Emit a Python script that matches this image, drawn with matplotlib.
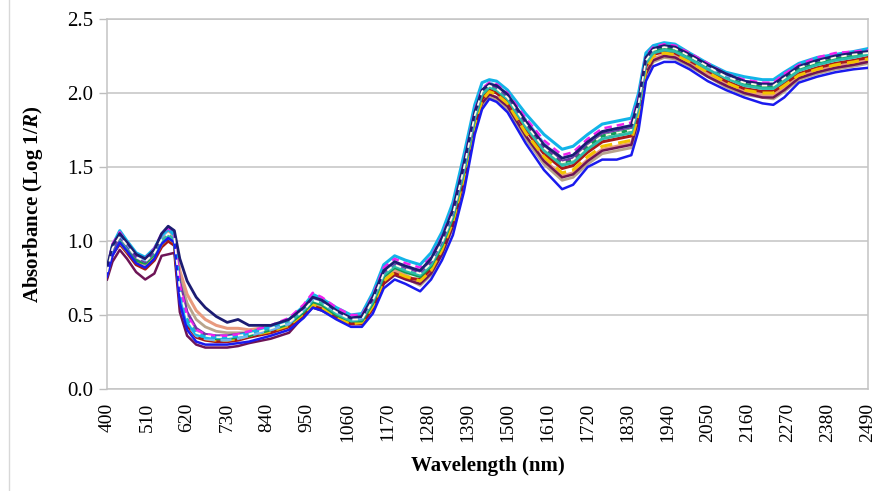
import matplotlib

matplotlib.use("Agg")
import matplotlib.pyplot as plt
from matplotlib.lines import Line2D

plt.rcParams["font.family"] = ["Liberation Serif", "DejaVu Serif"]
plt.rcParams["mathtext.fontset"] = "custom"
plt.rcParams["mathtext.rm"] = "Liberation Serif:bold"
plt.rcParams["mathtext.it"] = "Liberation Serif:italic:bold"

# Wavelength grid (nm) shared by every spectrum
wavelength = [
    400, 415, 435, 455, 480, 505, 530, 550, 568, 585,
    600, 620, 645, 670, 700, 730, 760, 790, 850, 900,
    940, 965, 990, 1030, 1070, 1100, 1130, 1160, 1190, 1220,
    1260, 1290, 1320, 1350, 1380, 1410, 1430, 1450, 1470, 1500,
    1550, 1600, 1650, 1680, 1720, 1760, 1800, 1840, 1860, 1880,
    1900, 1930, 1960, 2000, 2050, 2100, 2150, 2200, 2230, 2260,
    2300, 2350, 2400, 2450, 2490,
]

# Absorbance (log 1/R) per sample
navy = [
    0.82, 0.97, 1.05, 0.99, 0.91, 0.88, 0.94, 1.05, 1.10, 1.07,
    0.88, 0.73, 0.62, 0.55, 0.49, 0.45, 0.47, 0.43, 0.43, 0.47,
    0.55, 0.62, 0.60, 0.53, 0.48, 0.49, 0.62, 0.80, 0.86, 0.83,
    0.80, 0.88, 1.02, 1.21, 1.52, 1.87, 2.02, 2.06, 2.05, 1.99,
    1.81, 1.65, 1.56, 1.58, 1.67, 1.74, 1.76, 1.78, 1.95, 2.24,
    2.30, 2.32, 2.31, 2.26, 2.19, 2.13, 2.08, 2.06, 2.06, 2.11,
    2.18, 2.22, 2.25, 2.27, 2.28,
]
blue = [
    0.76, 0.90, 0.99, 0.93, 0.85, 0.82, 0.88, 0.98, 1.02, 0.99,
    0.58, 0.40, 0.32, 0.30, 0.30, 0.30, 0.31, 0.32, 0.36, 0.40,
    0.48, 0.55, 0.53, 0.47, 0.42, 0.42, 0.51, 0.68, 0.74, 0.71,
    0.66, 0.74, 0.87, 1.04, 1.33, 1.72, 1.89, 1.96, 1.94, 1.87,
    1.66, 1.48, 1.35, 1.38, 1.50, 1.55, 1.55, 1.58, 1.75, 2.08,
    2.18, 2.21, 2.21, 2.16, 2.08, 2.02, 1.97, 1.93, 1.92, 1.97,
    2.07, 2.11, 2.14, 2.16, 2.17,
]
plum = [
    0.74, 0.86, 0.94, 0.88, 0.79, 0.74, 0.78, 0.90, 0.91, 0.92,
    0.52, 0.36, 0.30, 0.28, 0.28, 0.28, 0.29, 0.31, 0.34, 0.38,
    0.49, 0.55, 0.53, 0.48, 0.44, 0.44, 0.54, 0.71, 0.77, 0.74,
    0.71, 0.78, 0.91, 1.10, 1.40, 1.77, 1.93, 1.99, 1.97, 1.91,
    1.71, 1.54, 1.43, 1.45, 1.54, 1.61, 1.63, 1.65, 1.82, 2.13,
    2.22, 2.25, 2.24, 2.19, 2.11, 2.05, 2.00, 1.97, 1.97, 2.02,
    2.10, 2.14, 2.17, 2.19, 2.21,
]
cyan = [
    0.80, 0.97, 1.07, 1.00, 0.92, 0.89, 0.95, 1.04, 1.08, 1.04,
    0.64, 0.45, 0.37, 0.35, 0.35, 0.35, 0.36, 0.38, 0.42, 0.47,
    0.56, 0.64, 0.61, 0.55, 0.50, 0.51, 0.65, 0.84, 0.90, 0.87,
    0.84, 0.92, 1.06, 1.26, 1.58, 1.92, 2.07, 2.09, 2.08, 2.02,
    1.86, 1.72, 1.62, 1.64, 1.72, 1.79, 1.81, 1.83, 2.00, 2.27,
    2.32, 2.34, 2.33, 2.27, 2.20, 2.14, 2.11, 2.09, 2.09, 2.14,
    2.20, 2.24, 2.26, 2.28, 2.30,
]
magenta = [
    0.81, 0.98, 1.06, 0.99, 0.91, 0.88, 0.95, 1.05, 1.09, 1.05,
    0.70, 0.50, 0.40, 0.37, 0.36, 0.36, 0.37, 0.39, 0.43, 0.48,
    0.57, 0.65, 0.62, 0.55, 0.50, 0.50, 0.63, 0.82, 0.88, 0.85,
    0.82, 0.89, 1.03, 1.22, 1.53, 1.88, 2.03, 2.07, 2.06, 2.00,
    1.83, 1.68, 1.58, 1.60, 1.69, 1.76, 1.78, 1.80, 1.97, 2.25,
    2.31, 2.33, 2.32, 2.27, 2.20, 2.13, 2.09, 2.07, 2.07, 2.13,
    2.19, 2.24, 2.27, 2.28, 2.29,
]
green = [
    0.78, 0.93, 1.01, 0.95, 0.87, 0.85, 0.91, 0.99, 1.03, 1.00,
    0.64, 0.46, 0.37, 0.35, 0.34, 0.34, 0.35, 0.36, 0.40, 0.44,
    0.52, 0.59, 0.57, 0.50, 0.46, 0.46, 0.58, 0.76, 0.82, 0.79,
    0.76, 0.83, 0.97, 1.16, 1.47, 1.83, 1.99, 2.04, 2.02, 1.96,
    1.78, 1.63, 1.53, 1.55, 1.64, 1.71, 1.73, 1.75, 1.92, 2.22,
    2.28, 2.30, 2.29, 2.24, 2.17, 2.11, 2.06, 2.04, 2.04, 2.09,
    2.16, 2.20, 2.23, 2.25, 2.27,
]
yellow = [
    0.77, 0.92, 0.99, 0.93, 0.86, 0.83, 0.89, 0.98, 1.02, 0.99,
    0.63, 0.47, 0.37, 0.34, 0.33, 0.33, 0.34, 0.36, 0.39, 0.43,
    0.51, 0.57, 0.55, 0.49, 0.44, 0.45, 0.56, 0.73, 0.79, 0.76,
    0.73, 0.80, 0.94, 1.13, 1.43, 1.79, 1.95, 2.01, 1.99, 1.93,
    1.73, 1.57, 1.46, 1.48, 1.57, 1.64, 1.66, 1.68, 1.86, 2.16,
    2.25, 2.27, 2.26, 2.21, 2.14, 2.07, 2.02, 2.00, 2.00, 2.05,
    2.12, 2.16, 2.19, 2.21, 2.23,
]
darkred = [
    0.76, 0.91, 0.98, 0.92, 0.84, 0.81, 0.87, 0.96, 1.00, 0.97,
    0.60, 0.43, 0.35, 0.33, 0.32, 0.32, 0.33, 0.35, 0.38, 0.42,
    0.50, 0.56, 0.54, 0.48, 0.44, 0.44, 0.55, 0.72, 0.78, 0.75,
    0.74, 0.81, 0.95, 1.14, 1.44, 1.80, 1.96, 2.02, 2.00, 1.94,
    1.75, 1.59, 1.49, 1.51, 1.60, 1.67, 1.69, 1.71, 1.88, 2.18,
    2.26, 2.28, 2.27, 2.22, 2.15, 2.08, 2.03, 2.01, 2.01, 2.06,
    2.13, 2.17, 2.20, 2.22, 2.24,
]
salmon = [
    0.79, 0.95, 1.03, 0.97, 0.90, 0.87, 0.93, 1.02, 1.06, 1.03,
    0.80, 0.64, 0.53, 0.47, 0.43, 0.41, 0.41, 0.40, 0.42, 0.46,
    0.52, 0.58, 0.56, 0.50, 0.45, 0.46, 0.57, 0.74, 0.80, 0.77,
    0.72, 0.79, 0.93, 1.11, 1.41, 1.77, 1.93, 1.99, 1.97, 1.91,
    1.71, 1.55, 1.44, 1.46, 1.55, 1.62, 1.64, 1.66, 1.84, 2.14,
    2.23, 2.26, 2.25, 2.20, 2.13, 2.06, 2.01, 1.99, 1.99, 2.04,
    2.11, 2.15, 2.18, 2.20, 2.22,
]
purple = [
    0.78, 0.94, 1.03, 0.97, 0.89, 0.86, 0.93, 1.03, 1.08, 1.05,
    0.72, 0.52, 0.41, 0.37, 0.36, 0.36, 0.37, 0.38, 0.42, 0.47,
    0.55, 0.63, 0.60, 0.53, 0.48, 0.48, 0.61, 0.79, 0.85, 0.82,
    0.79, 0.86, 1.00, 1.19, 1.50, 1.86, 2.02, 2.06, 2.04, 1.98,
    1.80, 1.64, 1.54, 1.56, 1.66, 1.73, 1.75, 1.77, 1.94, 2.23,
    2.30, 2.32, 2.31, 2.26, 2.19, 2.12, 2.08, 2.06, 2.06, 2.12,
    2.19, 2.23, 2.26, 2.27, 2.29,
]
tan = [
    0.77, 0.92, 1.00, 0.94, 0.87, 0.84, 0.90, 0.99, 1.03, 1.00,
    0.75, 0.58, 0.47, 0.42, 0.39, 0.38, 0.38, 0.38, 0.41, 0.45,
    0.51, 0.57, 0.55, 0.49, 0.45, 0.45, 0.56, 0.72, 0.78, 0.75,
    0.70, 0.77, 0.91, 1.09, 1.39, 1.75, 1.91, 1.97, 1.95, 1.89,
    1.69, 1.52, 1.41, 1.43, 1.52, 1.59, 1.61, 1.63, 1.80, 2.11,
    2.21, 2.24, 2.23, 2.18, 2.11, 2.04, 1.99, 1.97, 1.96, 2.01,
    2.09, 2.13, 2.16, 2.18, 2.20,
]
teal = [
    0.79, 0.94, 1.02, 0.96, 0.89, 0.86, 0.92, 1.00, 1.04, 1.01,
    0.66, 0.47, 0.38, 0.36, 0.35, 0.35, 0.36, 0.37, 0.41, 0.45,
    0.53, 0.60, 0.58, 0.51, 0.46, 0.47, 0.59, 0.77, 0.83, 0.80,
    0.77, 0.84, 0.98, 1.17, 1.47, 1.83, 1.99, 2.04, 2.02, 1.96,
    1.77, 1.61, 1.51, 1.53, 1.62, 1.69, 1.71, 1.73, 1.90, 2.20,
    2.27, 2.29, 2.28, 2.23, 2.16, 2.10, 2.05, 2.03, 2.03, 2.08,
    2.15, 2.19, 2.22, 2.24, 2.26,
]
skyblue = [
    0.80, 0.96, 1.04, 0.98, 0.90, 0.87, 0.94, 1.03, 1.07, 1.04,
    0.61, 0.44, 0.36, 0.34, 0.33, 0.33, 0.34, 0.36, 0.40, 0.44,
    0.54, 0.61, 0.59, 0.52, 0.47, 0.48, 0.61, 0.79, 0.86, 0.83,
    0.80, 0.87, 1.01, 1.20, 1.51, 1.86, 2.02, 2.07, 2.05, 1.99,
    1.82, 1.66, 1.56, 1.58, 1.67, 1.74, 1.76, 1.78, 1.96, 2.24,
    2.30, 2.32, 2.31, 2.26, 2.18, 2.12, 2.08, 2.06, 2.06, 2.11,
    2.18, 2.22, 2.25, 2.27, 2.28,
]
light = [
    0.79, 0.95, 1.03, 0.97, 0.89, 0.86, 0.92, 1.01, 1.05, 1.02,
    0.67, 0.48, 0.38, 0.36, 0.35, 0.35, 0.36, 0.37, 0.41, 0.45,
    0.53, 0.60, 0.58, 0.52, 0.47, 0.47, 0.60, 0.78, 0.84, 0.81,
    0.78, 0.85, 0.99, 1.18, 1.49, 1.85, 2.01, 2.05, 2.03, 1.97,
    1.79, 1.63, 1.53, 1.55, 1.64, 1.71, 1.73, 1.75, 1.93, 2.22,
    2.29, 2.31, 2.30, 2.25, 2.18, 2.11, 2.07, 2.05, 2.05, 2.10,
    2.17, 2.21, 2.24, 2.26, 2.27,
]

x_ticks = list(range(400, 2491, 110))
y_ticks = [0.0, 0.5, 1.0, 1.5, 2.0, 2.5]

# (values, colour, linestyle, width), drawn back to front
series = [
    (salmon, "#e89a7e", "-", 2.2),
    (tan, "#b8a48c", "-", 2.0),
    (plum, "#6e1456", "-", 1.8),
    (darkred, "#a81818", "-", 2.2),
    (yellow, "#f2c200", (0, (4, 2)), 2.2),
    (green, "#119a55", "-", 2.2),
    (teal, "#2cbcaa", "-", 2.0),
    (purple, "#6f35a5", "-", 2.0),
    (skyblue, "#6fb4f0", (0, (4, 2)), 2.0),
    (cyan, "#12b4e8", "-", 2.2),
    (magenta, "#ee22ee", (0, (3, 2)), 1.8),
    (navy, "#1c1c72", "-", 2.0),
    (blue, "#1a1aee", "-", 1.8),
    (light, "#fdfbe8", (0, (3, 3)), 1.3),
]

fig = plt.figure(figsize=(8.75, 4.91), dpi=100)
ax = fig.add_axes([107 / 875, 1 - 389 / 491, 761 / 875, 370 / 491])

for values, color, style, width in series:
    ax.plot(wavelength, values, color=color, linestyle=style, linewidth=width,
            solid_joinstyle="round", zorder=3)

ax.set_xlim(400, 2490)
ax.set_ylim(0, 2.5)
ax.set_xticks(x_ticks)
ax.set_xticklabels([str(t) for t in x_ticks], rotation=90, fontsize=14)
ax.set_yticks(y_ticks)
ax.set_yticklabels([f"{t:.1f}" for t in y_ticks], fontsize=15)
ax.tick_params(axis="x", length=0, pad=10)
ax.tick_params(axis="y", length=6, width=1, color="#bdbdbd", pad=4)
ax.grid(axis="y", color="#c4c4c4", linewidth=1.1, zorder=0)
for side in ax.spines.values():
    side.set_color("#c4c4c4")
    side.set_linewidth(1.1)

ax.set_ylabel(r"Absorbance (Log 1/$\mathit{R}$)", fontsize=15,
              fontweight="bold", labelpad=16)
ax.set_xlabel("Wavelength (nm)", fontsize=15, fontweight="bold", labelpad=10)

# faint outer chart frame on the left edge
fig.add_artist(Line2D([9 / 875, 9 / 875], [0, 1], color="#d8d8d8",
                      linewidth=1.0, transform=fig.transFigure))

fig.savefig("out.png", dpi=100)
